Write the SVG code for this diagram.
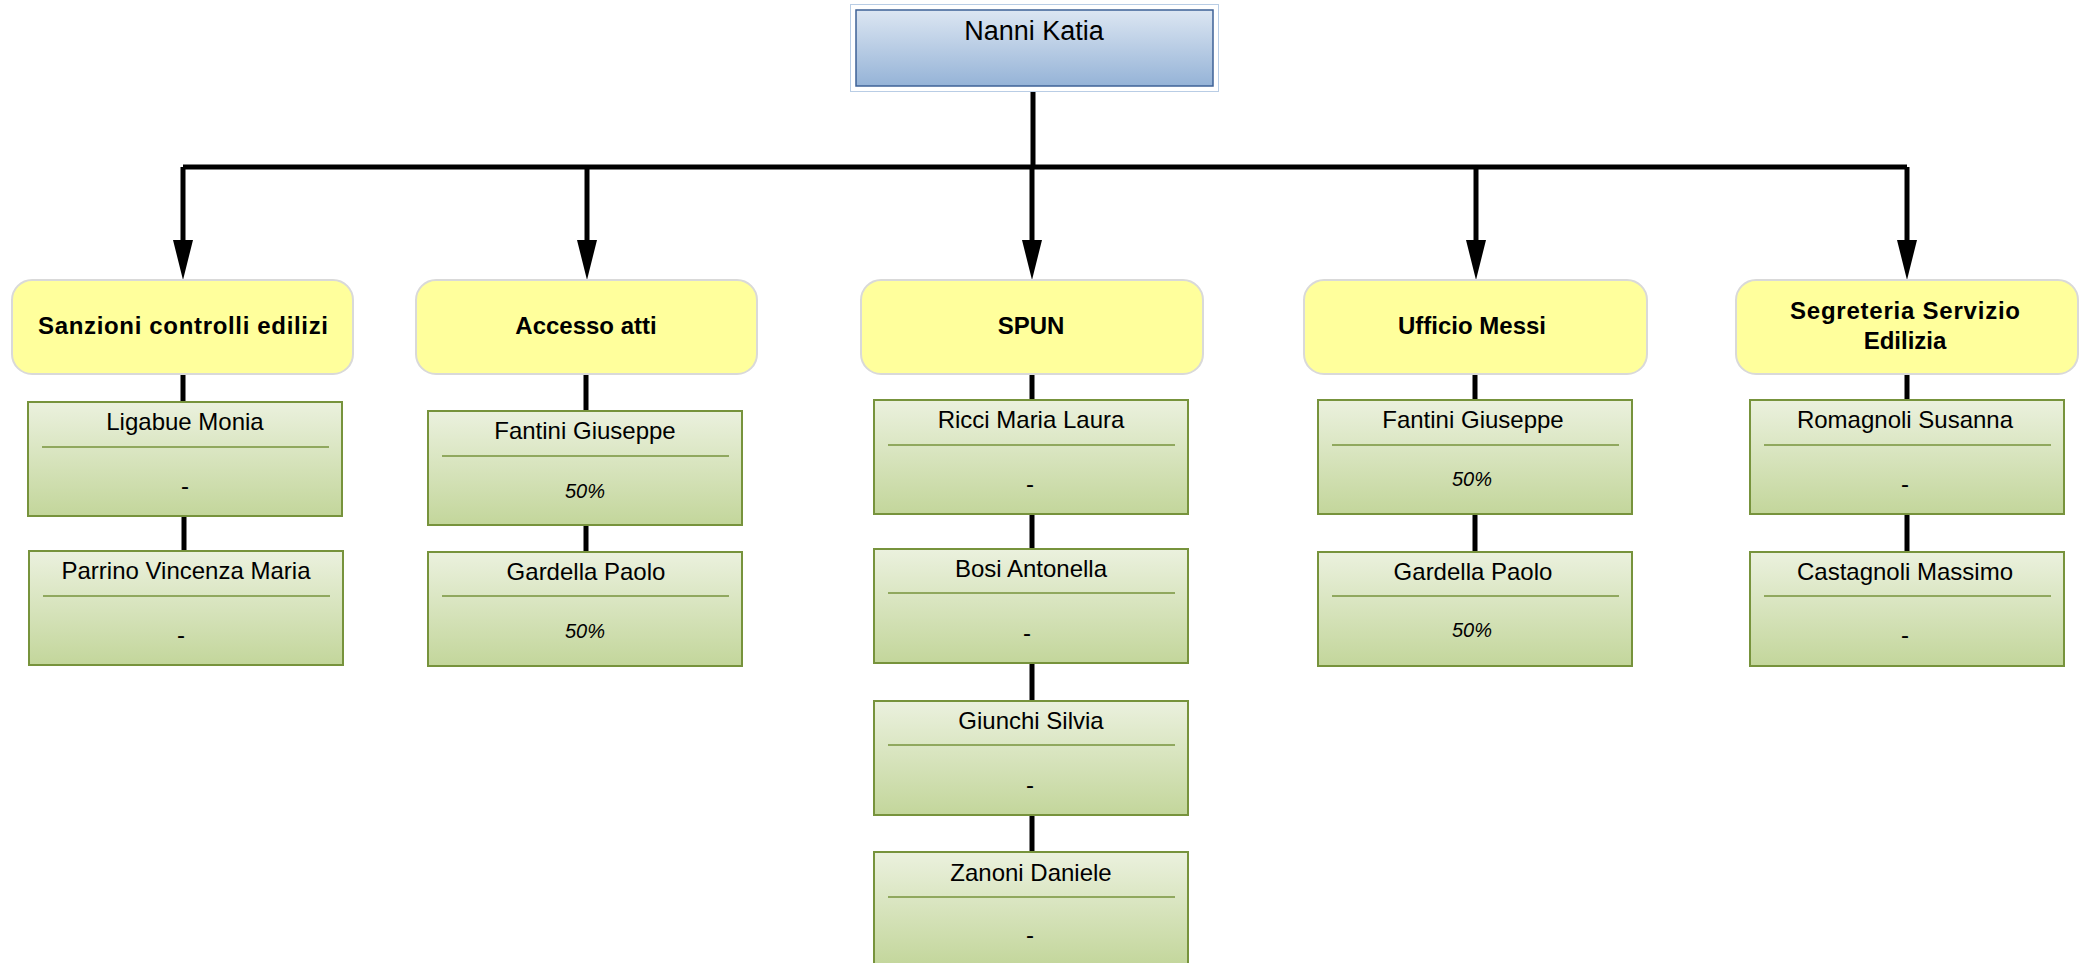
<svg xmlns="http://www.w3.org/2000/svg" width="2090" height="963" viewBox="0 0 2090 963">
<defs>
<linearGradient id="gBlue" x1="0" y1="0" x2="0" y2="1"><stop offset="0" stop-color="#dce6f2"/><stop offset="1" stop-color="#95b3d7"/></linearGradient>
<linearGradient id="gGreen" x1="0" y1="0" x2="0" y2="1"><stop offset="0" stop-color="#ebf1de"/><stop offset="1" stop-color="#c3d69b"/></linearGradient>
<marker id="arr" markerUnits="userSpaceOnUse" markerWidth="40" markerHeight="20" viewBox="0 0 40 20" refX="0" refY="10" orient="auto"><path d="M0,0 L40,10 L0,20 Z" fill="#000"/></marker>
<style>
.yel{fill:#ffff9c;stroke:#d9d9d9;stroke-width:2}
.grn{fill:url(#gGreen);stroke:#77933c;stroke-width:2}
.sep{stroke:#77933c;stroke-width:1.5}
.t{font-family:"Liberation Sans",Arial,sans-serif;fill:#000;text-anchor:middle}
.h{font-size:24px;font-weight:bold}
.n{font-size:24px}
.p{font-size:20px;font-style:italic}
.c{fill:none;stroke:#000;stroke-width:5}
</style>
</defs>
<g id="connectors">
<path class="c" d="M1033,91 V167"/>
<path class="c" d="M183,167 H1907"/>
<path class="c" d="M183,167 V240" marker-end="url(#arr)"/>
<path class="c" d="M587,167 V240" marker-end="url(#arr)"/>
<path class="c" d="M1032,167 V240" marker-end="url(#arr)"/>
<path class="c" d="M1476,167 V240" marker-end="url(#arr)"/>
<path class="c" d="M1907,167 V240" marker-end="url(#arr)"/>
<path class="c" d="M183,374 V402 M184,516 V551"/>
<path class="c" d="M586,374 V411 M586,525 V552"/>
<path class="c" d="M1032,374 V400 M1032,514 V549 M1032,663 V701 M1032,815 V852"/>
<path class="c" d="M1475,374 V400 M1475,514 V552"/>
<path class="c" d="M1907,374 V400 M1907,514 V552"/>
</g>
<g id="n-root">
<rect x="850.5" y="4.5" width="368" height="87" fill="#fff" stroke="#b9cde5" stroke-width="1"/>
<rect x="856" y="10" width="357" height="76" fill="url(#gBlue)" stroke="#3e6297" stroke-width="1.5"/>
<text class="t" x="1034" y="40" font-size="27">Nanni Katia</text>
</g>
<g id="n-sanzioni">
<rect class="yel" x="12" y="280" width="341" height="94" rx="20"/>
<text class="t h" x="183" y="334" textLength="290" lengthAdjust="spacing">Sanzioni controlli edilizi</text>
</g>
<g id="n-accesso">
<rect class="yel" x="416" y="280" width="341" height="94" rx="20"/>
<text class="t h" x="586" y="334">Accesso atti</text>
</g>
<g id="n-spun">
<rect class="yel" x="861" y="280" width="342" height="94" rx="20"/>
<text class="t h" x="1031" y="334">SPUN</text>
</g>
<g id="n-messi">
<rect class="yel" x="1304" y="280" width="343" height="94" rx="20"/>
<text class="t h" x="1472" y="334">Ufficio Messi</text>
</g>
<g id="n-segreteria">
<rect class="yel" x="1736" y="280" width="342" height="94" rx="20"/>
<text class="t h" x="1905" y="319" textLength="230" lengthAdjust="spacing">Segreteria Servizio</text>
<text class="t h" x="1905" y="349">Edilizia</text>
</g>
<g id="n-ligabue">
<rect class="grn" x="28" y="402" width="314" height="114"/>
<line class="sep" x1="42" y1="447" x2="329" y2="447"/>
<text class="t n" x="185" y="430">Ligabue Monia</text>
<text class="t n" x="185" y="494">-</text>
</g>
<g id="n-parrino">
<rect class="grn" x="29" y="551" width="314" height="114"/>
<line class="sep" x1="43" y1="596" x2="330" y2="596"/>
<text class="t n" x="186" y="579">Parrino Vincenza Maria</text>
<text class="t n" x="181" y="643">-</text>
</g>
<g id="n-fantini1">
<rect class="grn" x="428" y="411" width="314" height="114"/>
<line class="sep" x1="442" y1="456" x2="729" y2="456"/>
<text class="t n" x="585" y="439">Fantini Giuseppe</text>
<text class="t p" x="585" y="498">50%</text>
</g>
<g id="n-gardella1">
<rect class="grn" x="428" y="552" width="314" height="114"/>
<line class="sep" x1="442" y1="596" x2="729" y2="596"/>
<text class="t n" x="586" y="580">Gardella Paolo</text>
<text class="t p" x="585" y="638">50%</text>
</g>
<g id="n-ricci">
<rect class="grn" x="874" y="400" width="314" height="114"/>
<line class="sep" x1="888" y1="445" x2="1175" y2="445"/>
<text class="t n" x="1031" y="428">Ricci Maria Laura</text>
<text class="t n" x="1030" y="492">-</text>
</g>
<g id="n-bosi">
<rect class="grn" x="874" y="549" width="314" height="114"/>
<line class="sep" x1="888" y1="593" x2="1175" y2="593"/>
<text class="t n" x="1031" y="577">Bosi Antonella</text>
<text class="t n" x="1027" y="641">-</text>
</g>
<g id="n-giunchi">
<rect class="grn" x="874" y="701" width="314" height="114"/>
<line class="sep" x1="888" y1="745" x2="1175" y2="745"/>
<text class="t n" x="1031" y="729">Giunchi Silvia</text>
<text class="t n" x="1030" y="793">-</text>
</g>
<g id="n-zanoni">
<rect class="grn" x="874" y="852" width="314" height="114"/>
<line class="sep" x1="888" y1="897" x2="1175" y2="897"/>
<text class="t n" x="1031" y="881">Zanoni Daniele</text>
<text class="t n" x="1030" y="943">-</text>
</g>
<g id="n-fantini2">
<rect class="grn" x="1318" y="400" width="314" height="114"/>
<line class="sep" x1="1332" y1="445" x2="1619" y2="445"/>
<text class="t n" x="1473" y="428">Fantini Giuseppe</text>
<text class="t p" x="1472" y="486">50%</text>
</g>
<g id="n-gardella2">
<rect class="grn" x="1318" y="552" width="314" height="114"/>
<line class="sep" x1="1332" y1="596" x2="1619" y2="596"/>
<text class="t n" x="1473" y="580">Gardella Paolo</text>
<text class="t p" x="1472" y="637">50%</text>
</g>
<g id="n-romagnoli">
<rect class="grn" x="1750" y="400" width="314" height="114"/>
<line class="sep" x1="1764" y1="445" x2="2051" y2="445"/>
<text class="t n" x="1905" y="428">Romagnoli Susanna</text>
<text class="t n" x="1905" y="492">-</text>
</g>
<g id="n-castagnoli">
<rect class="grn" x="1750" y="552" width="314" height="114"/>
<line class="sep" x1="1764" y1="596" x2="2051" y2="596"/>
<text class="t n" x="1905" y="580">Castagnoli Massimo</text>
<text class="t n" x="1905" y="643">-</text>
</g>
</svg>
